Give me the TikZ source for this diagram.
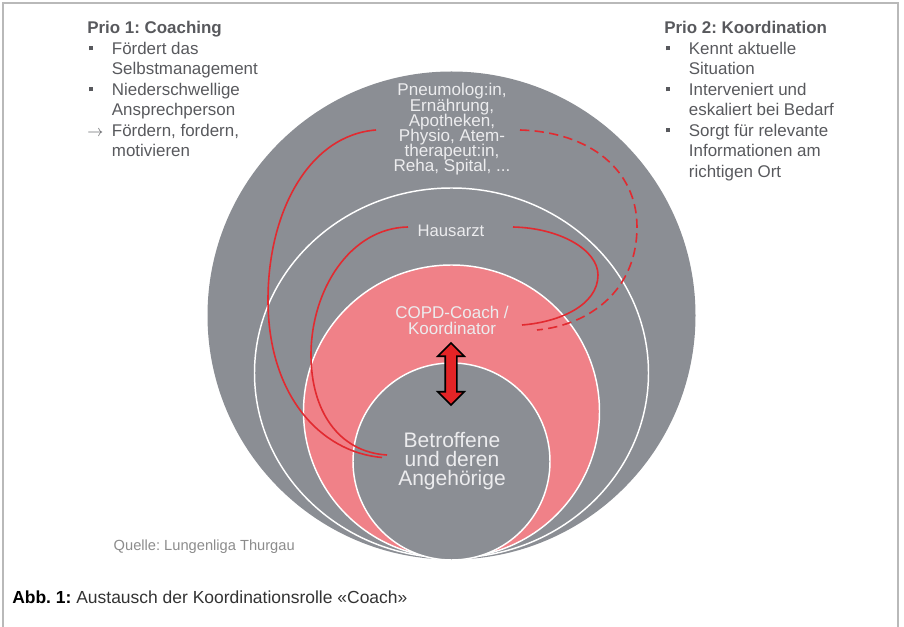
\documentclass[tikz,border=0pt]{standalone}
\usepackage{fontspec}
\setmainfont{Liberation Sans}
\usetikzlibrary{shapes.arrows}
\frenchspacing

\definecolor{kreisgrau}{RGB}{139,142,148}
\definecolor{kreisrosa}{RGB}{240,129,136}
\definecolor{linienrot}{RGB}{226,42,48}
\definecolor{pfeilrot}{RGB}{228,36,38}
\definecolor{textgrau}{RGB}{88,89,93}
\definecolor{hellweiss}{RGB}{236,236,238}

% Aufzählungszeichen und Einzug der Spalten
\newcommand{\punkt}{\makebox[18.5pt][l]{\hspace{1.1pt}\rule[2.8pt]{3pt}{3pt}}}
\newcommand{\pfeil}{\makebox[18.5pt][l]{$\rightarrow$}}
\newcommand{\einzug}{\hspace*{18.5pt}}
\newcommand{\engzeilig}{\lineskiplimit=-20pt\relax}

\begin{document}
\begin{tikzpicture}[x=0.75pt, y=-0.75pt,
  spalte/.style={anchor=north west, align=left, inner sep=0pt, text=textgrau,
    font=\fontsize{12.7}{15.4}\selectfont},
  kreistext/.style={text=hellweiss, align=center, inner sep=0pt},
  ring/.style={fill=kreisgrau, draw=white, line width=1.1pt},
  verbindung/.style={linienrot, line width=1.2pt}]
  \useasboundingbox (0,0) rectangle (904,627);
  % Marco
  \draw[gray!55, line width=0.8pt] (3,627) -- (3,3) -- (898,3) -- (898,627);
  % Círculos, todos tocándose abajo
  \fill[kreisgrau] (451.5,315.5) circle[radius=244];
  \draw[ring] (451.5,373) ellipse[x radius=197, y radius=185];
  \draw[ring, fill=kreisrosa] (451.5,411.5) ellipse[x radius=148, y radius=146.5];
  \draw[ring] (451.5,461.5) circle[radius=98.5];
  % Columnas de texto
  \node[spalte] (coaching) at (87,21) {\textbf{Prio 1: Coaching}\\
    \punkt Fördert das\\
    \einzug Selbstmanagement\\
    \punkt Niederschwellige\\
    \einzug Ansprechperson\\
    \pfeil Fördern, fordern,\\
    \einzug motivieren};
  \node[spalte] (koordination) at (664,21) {\textbf{Prio 2: Koordination}\\
    \punkt Kennt aktuelle\\
    \einzug Situation\\
    \punkt Interveniert und\\
    \einzug eskaliert bei Bedarf\\
    \punkt Sorgt für relevante\\
    \einzug Informationen am\\
    \einzug richtigen Ort};
  % Textos de los anillos
  \node[kreistext, font=\fontsize{12.8}{11.4}\selectfont\engzeilig]
    (fach) at (452,129.5) {Pneumolog:in,\\Ernährung,\\Apotheken,\\Physio, Atem-\\therapeut:in,\\Reha, Spital, ...};
  \node[kreistext, font=\fontsize{12.5}{15}\selectfont] (hausarzt) at (451,231) {Hausarzt};
  \node[kreistext, font=\fontsize{12.75}{12}\selectfont\engzeilig]
    (coach) at (452,320) {COPD-Coach /\\Koordinator};
  \node[kreistext, font=\fontsize{15.75}{14.25}\selectfont\engzeilig]
    (betroffene) at (452,461) {Betroffene\\und deren\\Angehörige};
  % Flecha doble
  \node[double arrow, rotate=90, fill=pfeilrot, draw=black, line width=1.2pt,
    minimum height=46.5pt, minimum width=18.75pt, double arrow head extend=5.6pt,
    inner xsep=0pt, inner ysep=3.75pt] (austausch) at (451,374) {};
  % Puntos de las líneas rojas
  \coordinate (fach-l) at (376,130);
  \coordinate (fach-r) at (520,130);
  \coordinate (haus-l) at (408,227);
  \coordinate (haus-r) at (513,227);
  \coordinate (coach-r) at (522,325);
  \coordinate (coach-rr) at (537,330);
  \coordinate (betr-l) at (387,455);
  \coordinate (betr-ll) at (382,457.5);
  % Líneas rojas
  \draw[verbindung] (fach-l) .. controls (310,135) and (268,210) .. (268,300)
    .. controls (268,395) and (320,452) .. (betr-ll);
  \draw[verbindung] (haus-l) .. controls (350,228) and (311,290) .. (311,355)
    .. controls (311,410) and (338,452) .. (betr-l);
  \draw[verbindung] (haus-r) .. controls (560,228) and (598,250) .. (598,275)
    .. controls (598,305) and (560,322) .. (coach-r);
  \draw[verbindung, dash pattern=on 7pt off 4pt] (fach-r)
    .. controls (590,132) and (637,170) .. (637,227)
    .. controls (637,290) and (590,325) .. (coach-rr);
  % Quelle y leyenda
  \node[anchor=east, inner sep=0pt, text=gray!90, font=\fontsize{11}{13}\selectfont]
    (quelle) at (295,547) {Quelle: Lungenliga Thurgau};
  \node[anchor=west, inner sep=0pt, text=black!80, font=\fontsize{13.1}{15}\selectfont]
    (legende) at (12,597) {\textbf{\color{black}Abb.~1:} Austausch der Koordinationsrolle «Coach»};
\end{tikzpicture}
\end{document}
